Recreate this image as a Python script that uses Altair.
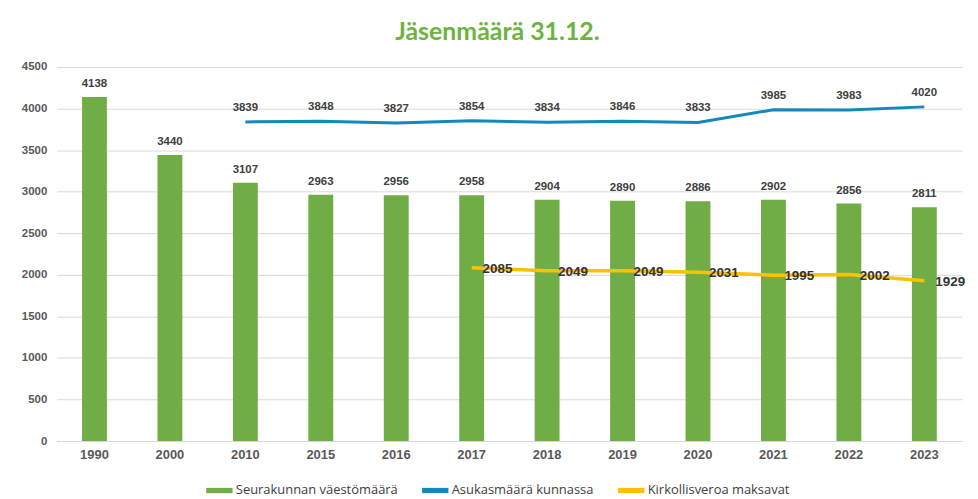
import altair as alt
import pandas as pd

years = ["1990", "2000", "2010", "2015", "2016", "2017", "2018", "2019", "2020", "2021", "2022", "2023"]
members = [4138, 3440, 3107, 2963, 2956, 2958, 2904, 2890, 2886, 2902, 2856, 2811]
residents = [None, None, 3839, 3848, 3827, 3854, 3834, 3846, 3833, 3985, 3983, 4020]
taxpayers = [None, None, None, None, None, 2085, 2049, 2049, 2031, 1995, 2002, 1929]

S1 = "Seurakunnan väestömäärä"
S2 = "Asukasmäärä kunnassa"
S3 = "Kirkollisveroa maksavat"

bars_df = pd.DataFrame({"year": years, "value": members, "series": S1})
res_df = pd.DataFrame({"year": years, "value": residents, "series": S2}).dropna()
tax_df = pd.DataFrame({"year": years, "value": taxpayers, "series": S3}).dropna()

color_scale = alt.Scale(domain=[S1, S2, S3], range=["#70AD47", "#1588BA", "#FFC000"])

x_enc = alt.X("year:N", sort=years, title=None,
              scale=alt.Scale(paddingInner=0.67, paddingOuter=0.335),
              axis=alt.Axis(labelAngle=0, labelFont="Liberation Sans", labelFontWeight="bold",
                            labelFontSize=13, labelColor="#595959", ticks=False,
                            domainColor="#d9d9d9", labelPadding=8))
y_enc = alt.Y("value:Q", title=None,
              scale=alt.Scale(domain=[0, 4500]),
              axis=alt.Axis(values=list(range(0, 4501, 500)), format="d", domain=False, ticks=False,
                            labelFont="Liberation Sans", labelFontWeight="bold", labelFontSize=11.5,
                            labelColor="#595959", gridColor="#d9d9d9", labelPadding=10))

bars = alt.Chart(bars_df).mark_bar(size=25).encode(
    x=x_enc, y=y_enc,
    color=alt.Color("series:N", scale=color_scale, title=None,
                    legend=alt.Legend(orient="none", legendX=150, legendY=412,
                                      direction="horizontal", columns=3,
                                      symbolType="M-1,-0.2H1V0.2H-1Z", symbolSize=700,
                                      symbolStrokeWidth=0, labelFont="Open Sans",
                                      labelFontSize=13, labelColor="#404040",
                                      labelOffset=3, columnPadding=24,
                                      labelLimit=300))
)
bar_labels = alt.Chart(bars_df).mark_text(dy=-8, baseline="bottom", font="Liberation Sans",
                                          fontWeight="bold", fontSize=11.5, color="#404040").encode(
    x=alt.X("year:N", sort=years), y="value:Q", text="value:Q")

res_line = alt.Chart(res_df).mark_line(strokeWidth=3).encode(
    x=alt.X("year:N", sort=years), y="value:Q",
    color=alt.Color("series:N", scale=color_scale, legend=None))
res_labels = alt.Chart(res_df).mark_text(dy=-9, baseline="bottom", font="Liberation Sans",
                                         fontWeight="bold", fontSize=11.5, color="#404040").encode(
    x=alt.X("year:N", sort=years), y="value:Q", text="value:Q")

tax_line = alt.Chart(tax_df).mark_line(strokeWidth=3.5).encode(
    x=alt.X("year:N", sort=years), y="value:Q",
    color=alt.Color("series:N", scale=color_scale, legend=None))
tax_labels = alt.Chart(tax_df).mark_text(dx=11, dy=1, align="left", baseline="middle",
                                         font="Liberation Sans", fontWeight="bold", fontSize=13.5,
                                         color="#333333").encode(
    x=alt.X("year:N", sort=years), y="value:Q", text="value:Q")

chart = alt.layer(bars, bar_labels, res_line, res_labels, tax_line, tax_labels).properties(
    width=910, height=376,
    title=alt.Title("Jäsenmäärä 31.12.", font="Lato", fontSize=25, fontWeight="bold",
                    color="#6DB33F", anchor="middle", offset=16, dx=-12),
    autosize=alt.AutoSizeParams(type="none"),
    padding={"left": 49, "top": 58, "right": 8, "bottom": 57},
).configure_view(stroke=None)

chart.save("out.html", embed_options={"renderer": "svg", "actions": False})
